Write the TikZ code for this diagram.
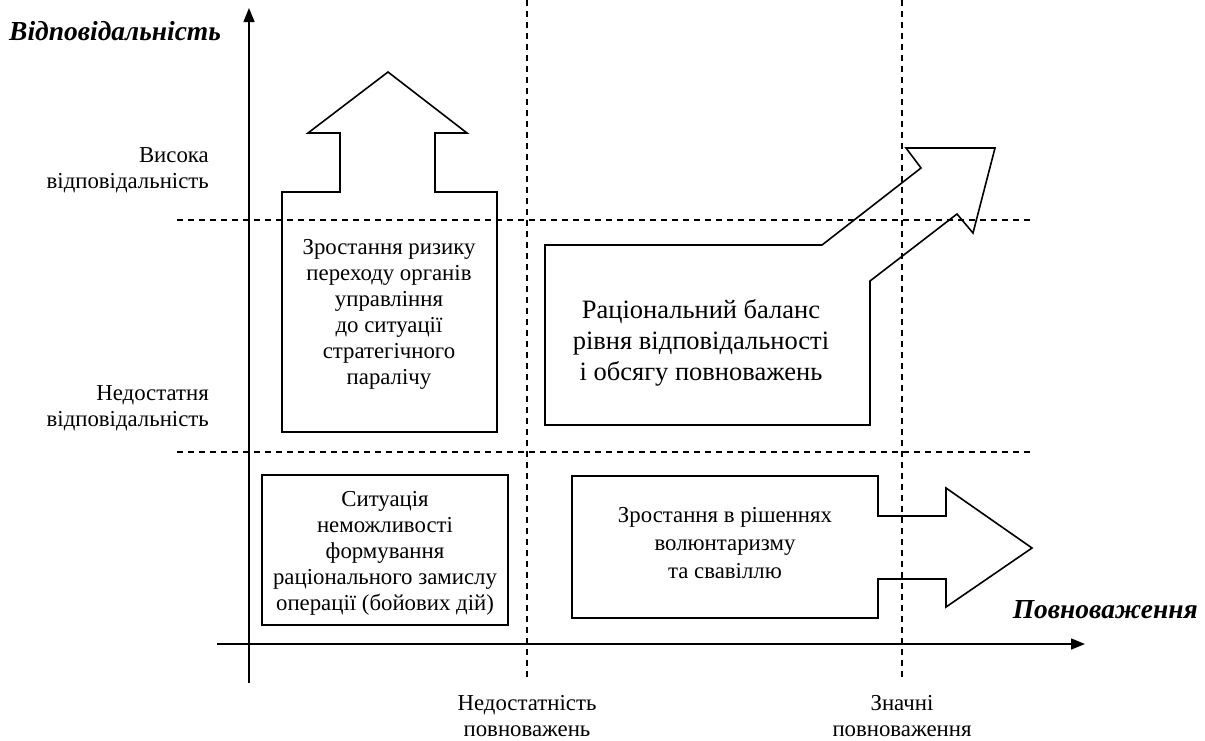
\documentclass[tikz,border=0pt]{standalone}
\usepackage{fontspec}
\setmainfont{Liberation Serif}
\usepackage{tikz}
\usetikzlibrary{arrows.meta}
\def\txt{\fontsize{22.8}{26}\selectfont}
\def\bigtxt{\fontsize{26.5}{31}\selectfont}
\def\ttl{\fontsize{27.5}{30}\selectfont\bfseries\itshape}

\tikzset{
	axis/.style={line width=1.5pt, -{Triangle[length=14pt,width=11pt]}},
	guide/.style={line width=1.2pt, dash pattern=on 6pt off 5pt},
	outline/.style={line width=1.6pt, line join=miter},
	lbl/.style={align=center, inner sep=0pt, font=\txt},
}

\begin{document}
\begin{tikzpicture}[x=1pt, y=-1pt]
		%%%%% START %%%%%
		\useasboundingbox (0, 0) rectangle (1205, 740);
		
		% guides
		\draw[guide] (527, 0) -- (527, 677);
		\draw[guide] (902, 0) -- (902, 677);
		\draw[guide] (177, 220) -- (1030, 220);
		\draw[guide] (177, 452) -- (1030, 452);
		
		% axes
		\draw[axis] (249, 683) -- (249, 8);
		\draw[axis] (217, 644) -- (1085, 644);
		
		\node[lbl, font=\ttl, anchor=west] (resp) at (9, 31) {Відповідальність};
		\node[lbl, font=\ttl, anchor=east] (power) at (1198, 610) {Повноваження};
		
		\node[lbl, align=right, anchor=east] (high) at (209, 170) {Висока\\відповідальність};
		\node[lbl, align=right, anchor=east] (low) at (209, 408) {Недостатня\\відповідальність};
		\node[lbl] (lowpow) at (527, 716) {Недостатність\\повноважень};
		\node[lbl] (highpow) at (902, 716) {Значні\\повноваження};
		
		% up arrow
		\draw[outline] (282, 432) -- (282, 192) -- (340, 192) -- (340, 133) -- (308, 133)
			-- (388, 72) -- (467, 133) -- (435, 133) -- (435, 192) -- (497, 192)
			-- (497, 432) -- cycle;
		\node[lbl] (risk) at (389, 314) {Зростання ризику\\переходу органів\\управління\\до ситуації\\стратегічного\\паралічу};
		
		% box
		\draw[outline] (262, 475) rectangle (508, 625);
		\node[lbl] (plan) at (385, 553) {Ситуація\\неможливості\\формування\\раціонального замислу\\операції (бойових дій)};
		
		% diagonal arrow
		\draw[outline] (545, 425) -- (545, 245) -- (822, 245) -- (921, 168) -- (906, 148)
			-- (995, 148) -- (973, 233) -- (957, 214) -- (870, 281) -- (870, 425) -- cycle;
		\node[lbl, font=\bigtxt] (balance) at (701, 343) {Раціональний баланс\\рівня відповідальності\\і обсягу повноважень};
		
		% right arrow
		\draw[outline] (572, 476) -- (878, 476) -- (878, 516) -- (946, 516) -- (946, 488)
			-- (1032, 548) -- (946, 607) -- (946, 579) -- (878, 579) -- (878, 618)
			-- (572, 618) -- cycle;
		\node[lbl, font=\fontsize{22.8}{28}\selectfont] (will) at (725, 543) {Зростання в рішеннях\\волюнтаризму\\та свавіллю};
		
		%%%%% END %%%%%
	\end{tikzpicture}
\end{document}
